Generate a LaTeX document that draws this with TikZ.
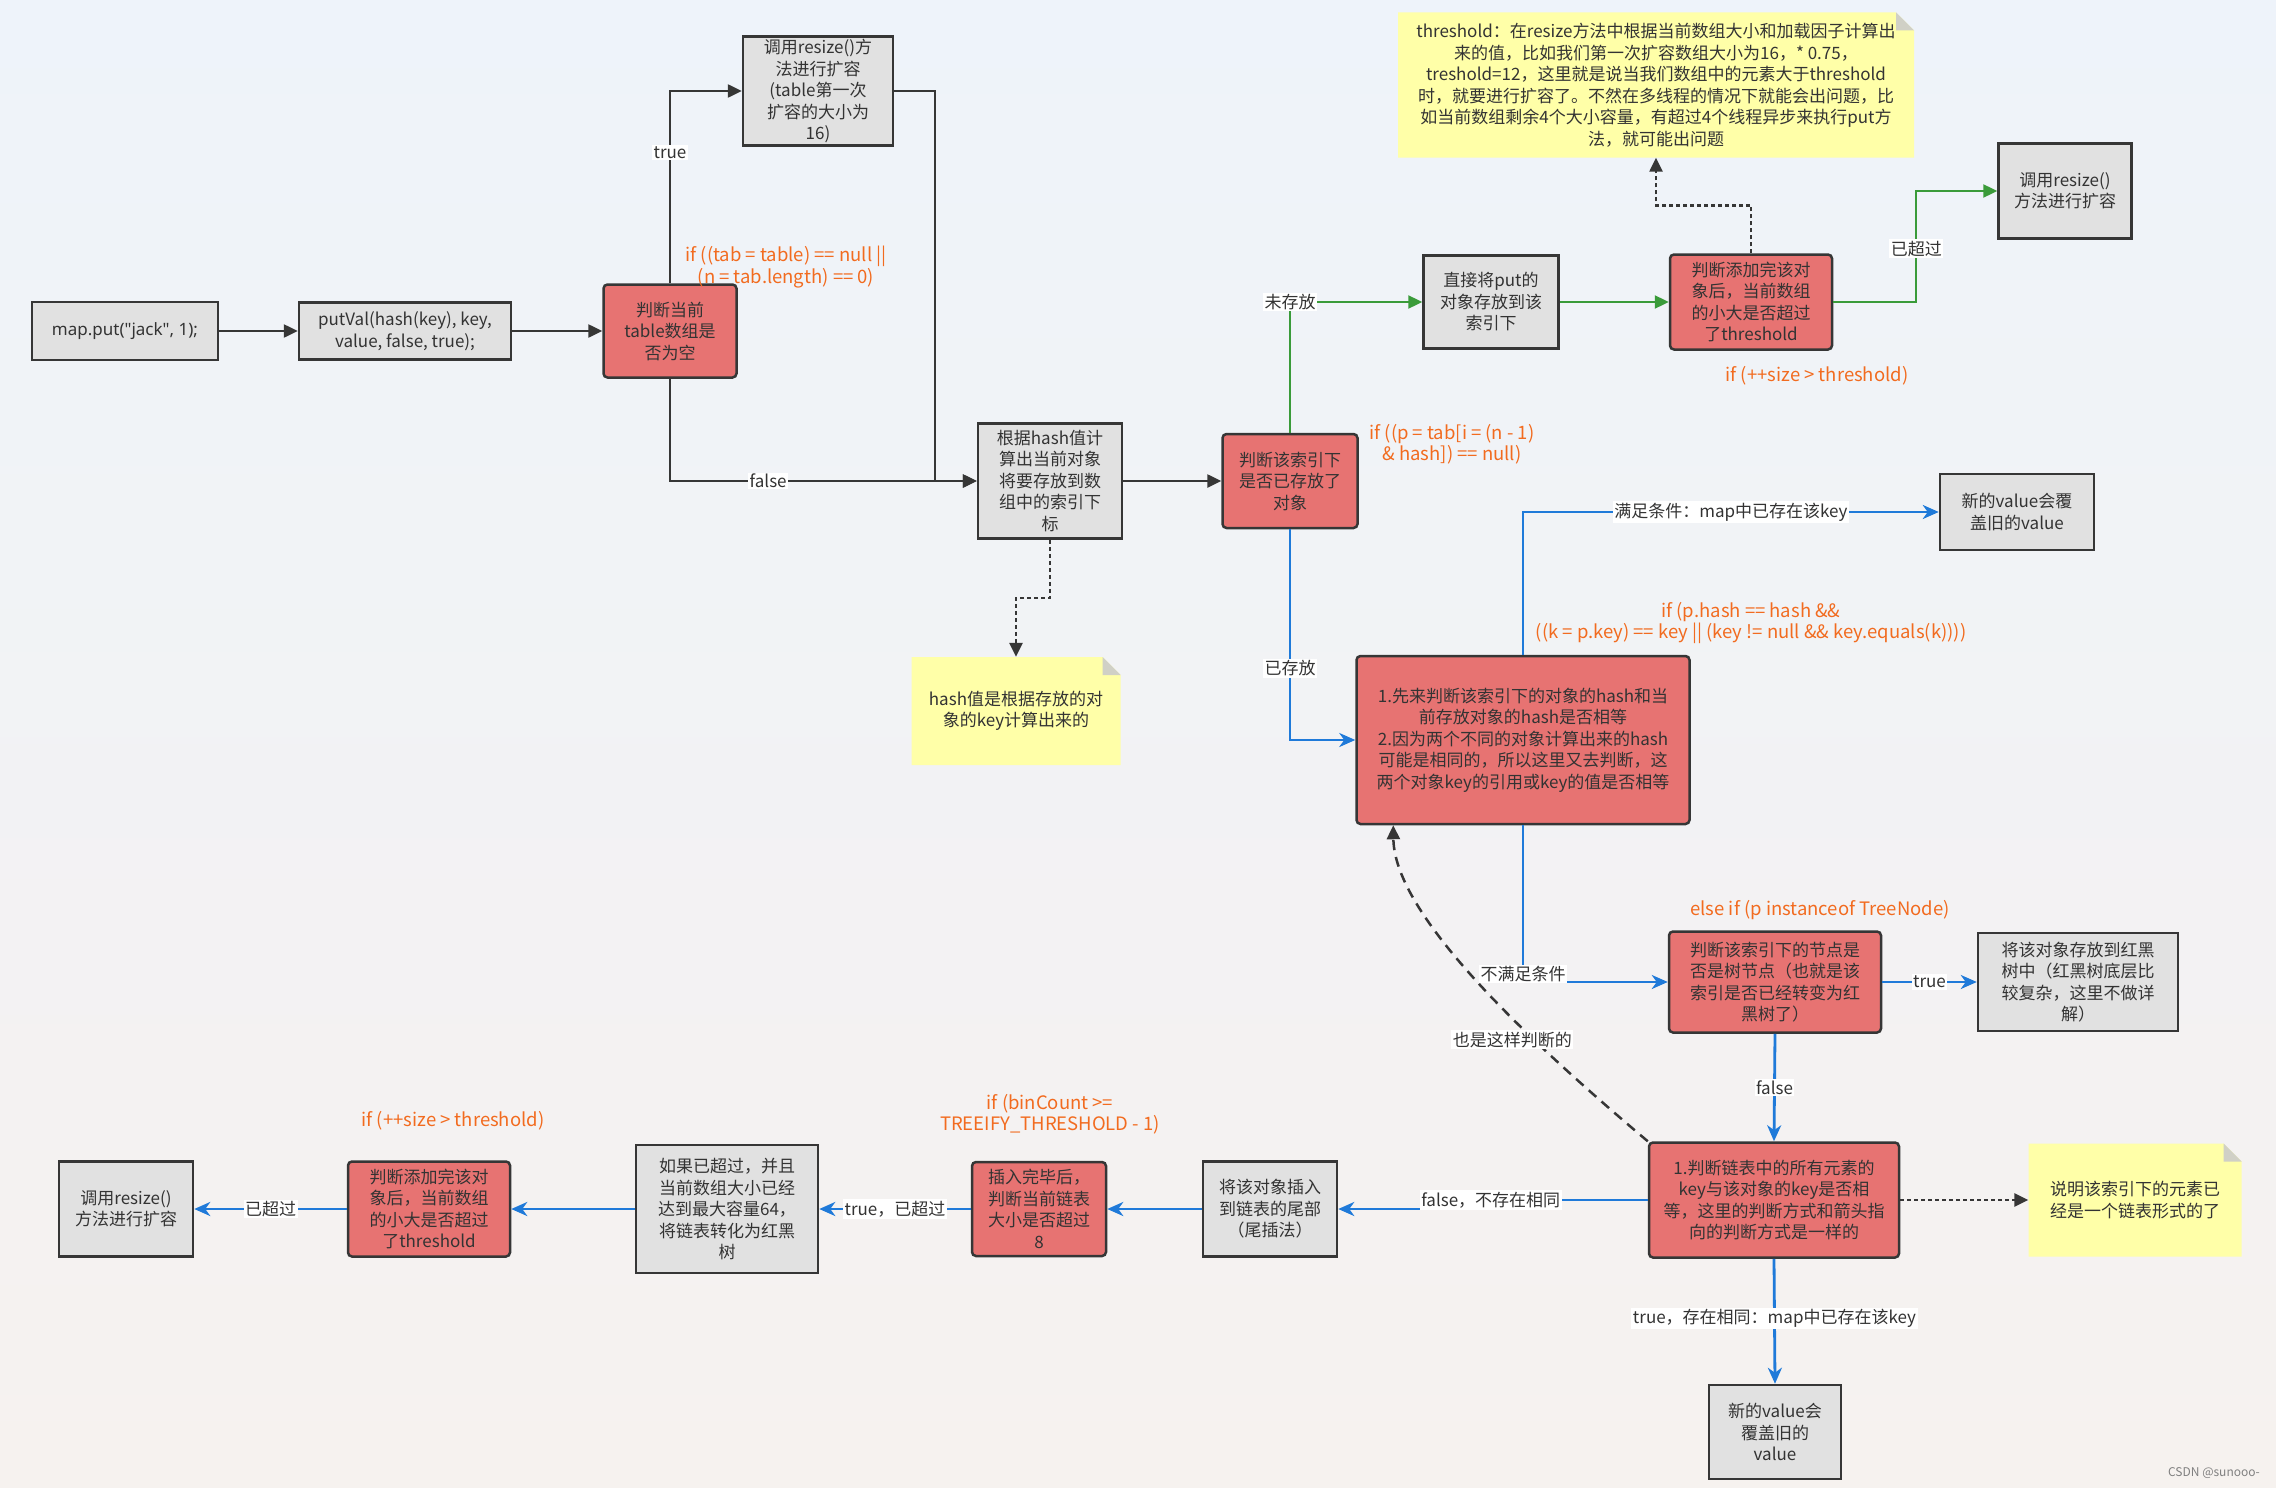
\documentclass[tikz,border=0pt]{standalone}
\usepackage{fontspec}
\setmainfont{Noto Sans CJK SC}
\newfontfamily\latinfont{Noto Sans}
\usetikzlibrary{arrows.meta,positioning}
\definecolor{bgtop}{HTML}{EEF3FA}
\definecolor{bgbot}{HTML}{F6F2EF}
\definecolor{boxgray}{HTML}{E1E1E1}
\definecolor{boxred}{HTML}{E77372}
\definecolor{boxline}{HTML}{363636}
\definecolor{notey}{HTML}{FFFFA8}
\definecolor{foldg}{HTML}{D0D0C6}
\definecolor{condorange}{HTML}{F26B1F}
\definecolor{linkblue}{HTML}{1F7AD9}
\definecolor{linkgreen}{HTML}{3A9B3A}
\definecolor{txtgray}{HTML}{333333}

\begin{document}
\begin{tikzpicture}[x=1pt, y=-1pt,
	every node/.style={font=\fontsize{17}{21.5}\selectfont, text=txtgray, align=center},
	graybox/.style={draw=boxline, line width=2.5pt, fill=boxgray, inner sep=2pt},
	redbox/.style={graybox, fill=boxred, rounded corners=4pt},
	note/.style={inner sep=2pt, path picture={
		\fill[notey] (path picture bounding box.north west) -- ([xshift=-18pt]path picture bounding box.north east)
			-- ([yshift=-18pt]path picture bounding box.north east) -- (path picture bounding box.south east)
			-- (path picture bounding box.south west) -- cycle;
		\fill[foldg] ([xshift=-18pt]path picture bounding box.north east) -- ([xshift=-18pt,yshift=-18pt]path picture bounding box.north east)
			-- ([yshift=-18pt]path picture bounding box.north east) -- cycle;}},
	cond/.style={text=condorange, font=\fontsize{18.5}{21.5}\selectfont},
	lbl/.style={fill=white, inner sep=1.5pt},
	blk/.style={draw=boxline, line width=2.5pt, -{Triangle[length=14pt,width=13pt]}},
	blkdot/.style={blk, dash pattern=on 4pt off 3pt},
	blkdash/.style={blk, dash pattern=on 10pt off 7pt},
	grn/.style={draw=linkgreen, line width=2.3pt, -{Triangle[length=14pt,width=13pt]}},
	blu/.style={draw=linkblue, line width=2.8pt, -{Stealth[length=16pt,width=14pt,inset=5pt]}}
	]
	\shade[top color=bgtop, bottom color=bgbot] (0,0) rectangle (2276,1488);
	\useasboundingbox (0,0) rectangle (2276,1488);

	\node[graybox, minimum width=186, minimum height=58, font=\latinfont\fontsize{17}{21.5}\selectfont] (put) at (125,331) {map.put("jack", 1);};
	\node[graybox, minimum width=212, minimum height=57] (putval) at (405,331) {putVal(hash(key), key,\\value, false, true);};
	\node[redbox, minimum width=133, minimum height=93] (isempty) at (670,331) {判断当前\\table数组是\\否为空};
	\node[graybox, minimum width=150, minimum height=109] (resizeA) at (818,91) {调用resize()方\\法进行扩容\\(table第一次\\扩容的大小为\\16)};
	\node[graybox, minimum width=144, minimum height=115] (index) at (1050,481) {根据hash值计\\算出当前对象\\将要存放到数\\组中的索引下\\标};
	\node[redbox, minimum width=135, minimum height=94] (exists) at (1290,481) {判断该索引下\\是否已存放了\\对象};
	\node[graybox, minimum width=135, minimum height=93] (store) at (1491,302) {直接将put的\\对象存放到该\\索引下};
	\node[redbox, minimum width=162, minimum height=95] (sizeA) at (1751,302) {判断添加完该对\\象后，当前数组\\的小大是否超过\\了threshold};
	\node[graybox, minimum width=133, minimum height=95] (resizeB) at (2065,191) {调用resize()\\方法进行扩容};
	\node[note, minimum width=516, minimum height=145] (thrnote) at (1656,85) {threshold：在resize方法中根据当前数组大小和加载因子计算出\\来的值，比如我们第一次扩容数组大小为16，* 0.75，\\treshold=12，这里就是说当我们数组中的元素大于threshold\\时，就要进行扩容了。不然在多线程的情况下就能会出问题，比\\如当前数组剩余4个大小容量，有超过4个线程异步来执行put方\\法，就可能出问题};
	\node[note, minimum width=209, minimum height=108] (hashnote) at (1016,711) {hash值是根据存放的对\\象的key计算出来的};
	\node[redbox, minimum width=333, minimum height=168] (compare) at (1523,740) {1.先来判断该索引下的对象的hash和当\\前存放对象的hash是否相等\\2.因为两个不同的对象计算出来的hash\\可能是相同的，所以这里又去判断，这\\两个对象key的引用或key的值是否相等};
	\node[graybox, minimum width=154, minimum height=76] (coverA) at (2017,512) {新的value会覆\\盖旧的value};
	\node[redbox, minimum width=212, minimum height=101] (istree) at (1775,982) {判断该索引下的节点是\\否是树节点（也就是该\\索引是否已经转变为红\\黑树了）};
	\node[graybox, minimum width=200, minimum height=98] (tree) at (2078,982) {将该对象存放到红黑\\树中（红黑树底层比\\较复杂，这里不做详\\解）};
	\node[redbox, minimum width=250, minimum height=115] (listcmp) at (1774,1200) {1.判断链表中的所有元素的\\key与该对象的key是否相\\等，这里的判断方式和箭头指\\向的判断方式是一样的};
	\node[note, minimum width=213, minimum height=113] (listnote) at (2135,1200) {说明该索引下的元素已\\经是一个链表形式的了};
	\node[graybox, minimum width=132, minimum height=94] (coverB) at (1775,1432) {新的value会\\覆盖旧的\\value};
	\node[graybox, minimum width=134, minimum height=95] (tail) at (1270,1209) {将该对象插入\\到链表的尾部\\（尾插法）};
	\node[redbox, minimum width=134, minimum height=94] (bincnt) at (1039,1209) {插入完毕后，\\判断当前链表\\大小是否超过\\8};
	\node[graybox, minimum width=182, minimum height=128] (treeify) at (727,1209) {如果已超过，并且\\当前数组大小已经\\达到最大容量64，\\将链表转化为红黑\\树};
	\node[redbox, minimum width=162, minimum height=95] (sizeB) at (429,1209) {判断添加完该对\\象后，当前数组\\的小大是否超过\\了threshold};
	\node[graybox, minimum width=134, minimum height=95] (resizeC) at (126,1209) {调用resize()\\方法进行扩容};

	\node[cond] (condA) at (786,267) {if ((tab = table) == null ||\\(n = tab.length) == 0)};
	\node[cond] (condB) at (1452,444) {if ((p = tab[i = (n - 1)\\\& hash]) == null)};
	\node[cond] (condC) at (1817,376) {if (++size > threshold)};
	\node[cond] (condD) at (1751,623) {if (p.hash == hash \&\&\\((k = p.key) == key || (key != null \&\& key.equals(k))))};
	\node[cond] (condE) at (1820,910) {else if (p instanceof TreeNode)};
	\node[cond] (condF) at (1050,1114) {if (binCount >=\\TREEIFY\_THRESHOLD - 1)};
	\node[cond] (condG) at (453,1121) {if (++size > threshold)};
	\node[font=\fontsize{12}{14}\selectfont, text=gray] (mark) at (2214,1473) {CSDN @sunooo-};

	\coordinate (join) at (935,481);
	\draw[blk] (put.east) -- (putval.west);
	\draw[blk] (putval.east) -- (isempty.west);
	\draw[blk] (isempty.north) |- node[lbl, pos=0.34] {true} (resizeA.west);
	\draw[blk] (isempty.south) |- node[lbl, pos=0.66] {false} (index.west);
	\draw[blk] (resizeA.east) -| (join) -- (index.west);
	\draw[blk] (index.east) -- (exists.west);
	\draw[blkdot] (index.south) -- ++(0,58) -| (hashnote.north);
	\draw[grn] (exists.north) |- node[lbl, pos=0.5] {未存放} (store.west);
	\draw[grn] (store.east) -- (sizeA.west);
	\draw[grn] (sizeA.east) -- ++(83,0) |- node[lbl, pos=0.24] {已超过} (resizeB.west);
	\draw[blkdot] (sizeA.north) -- ++(0,-48) -| (thrnote.south);
	\draw[blu] (exists.south) |- node[lbl, pos=0.33] {已存放} (compare.west);
	\draw[blu] (compare.north) |- node[lbl, pos=0.75] {满足条件：map中已存在该key} (coverA.west);
	\draw[blu] (compare.south) |- node[lbl, pos=0.5, yshift=8pt] {不满足条件} (istree.west);
	\draw[blu] (istree.east) -- node[lbl] {true} (tree.west);
	\draw[blu] (istree.south) -- node[lbl] {false} (listcmp.north);
	\draw[blkdot] (listcmp.east) -- (listnote.west);
	\draw[blu] (listcmp.south) -- node[lbl, pos=0.48] {true，存在相同：map中已存在该key} (coverB.north);
	\draw[blu] (listcmp.west) -- node[lbl, pos=1] {false，不存在相同} ++(-157,0) |- (tail.east);
	\draw[blu] (tail.west) -- (bincnt.east);
	\draw[blu] (bincnt.west) -- node[lbl] {true，已超过} (treeify.east);
	\draw[blu] (treeify.west) -- (sizeB.east);
	\draw[blu] (sizeB.west) -- node[lbl] {已超过} (resizeC.east);
	\draw[blkdash] (listcmp.north west) .. controls (1480,1000) and (1394,900) .. ([xshift=38pt]compare.south west)
		node[lbl, pos=0.25, xshift=-25pt, yshift=3pt] {也是这样判断的};
\end{tikzpicture}
\end{document}
